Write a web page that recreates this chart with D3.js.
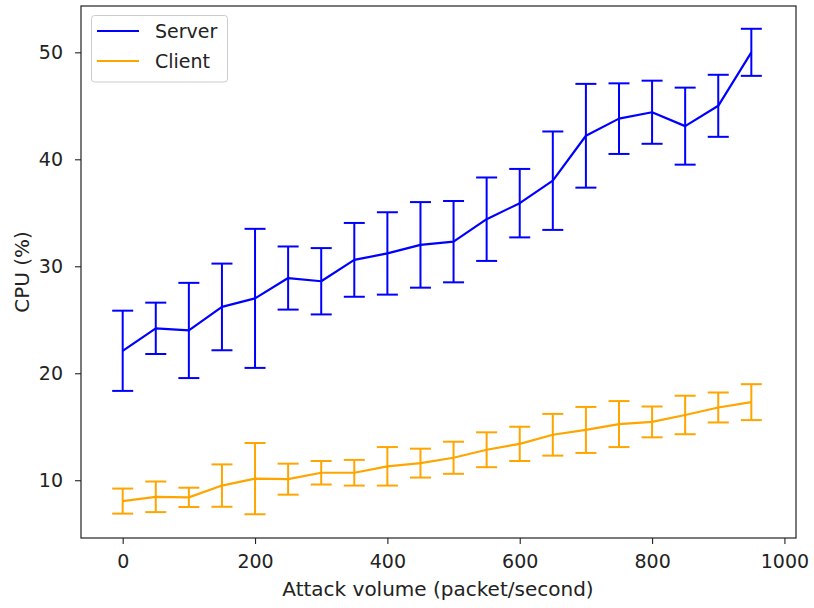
<!DOCTYPE html>
<html>
<head>
<meta charset="utf-8">
<script src="https://cdn.jsdelivr.net/npm/d3@7"></script>
<style>
  body { margin: 0; background: #fff; }
  text { font-family: "DejaVu Sans", sans-serif; fill: #222; }
</style>
</head>
<body>
<script>
// data
const volumes = [0, 50, 100, 150, 200, 250, 300, 350, 400, 450, 500, 550, 600, 650, 700, 750, 800, 850, 900, 950];
const serverMean = [22.1, 24.2, 24.0, 26.2, 27.0, 28.9, 28.6, 30.6, 31.2, 32.0, 32.3, 34.4, 35.9, 38.0, 42.2, 43.8, 44.4, 43.1, 45.0, 50.0];
const serverErr = [3.75, 2.4, 4.45, 4.05, 6.5, 2.95, 3.1, 3.45, 3.85, 4.0, 3.8, 3.9, 3.2, 4.6, 4.85, 3.3, 2.95, 3.6, 2.9, 2.2];
const clientMean = [8.05, 8.45, 8.4, 9.5, 10.15, 10.1, 10.7, 10.7, 11.3, 11.6, 12.1, 12.85, 13.4, 14.25, 14.7, 15.25, 15.45, 16.1, 16.8, 17.3];
const clientErr = [1.17, 1.43, 0.9, 1.98, 3.33, 1.45, 1.1, 1.2, 1.8, 1.35, 1.5, 1.63, 1.6, 1.95, 2.15, 2.15, 1.44, 1.8, 1.4, 1.68];
const xTicks = [0, 200, 400, 600, 800, 1000];
const yTicks = [10, 20, 30, 40, 50];

const series = [
  { name: 'Server', mean: serverMean, err: serverErr, color: '#0000ff' },
  { name: 'Client', mean: clientMean, err: clientErr, color: '#ffa500' }
];

const width = 814, height = 608;
const plotL = 81, plotR = 796, plotT = 6, plotB = 538;

const svg = d3.select('body').append('svg')
  .attr('width', width)
  .attr('height', height);

const x = d3.scaleLinear().domain([-63, 1017.5]).range([plotL, plotR]);
const y = d3.scaleLinear().domain([4.6, 54.33]).range([plotB, plotT]);

// axes
svg.append('g')
  .attr('transform', `translate(0,${plotB})`)
  .call(d3.axisBottom(x).tickValues(xTicks).tickSize(6).tickPadding(11).tickFormat(d3.format('d')))
  .call(g => g.select('.domain').remove())
  .call(g => g.selectAll('text').style('font-size', '19px'));

svg.append('g')
  .attr('transform', `translate(${plotL},0)`)
  .call(d3.axisLeft(y).tickValues(yTicks).tickSize(6).tickPadding(12))
  .call(g => g.select('.domain').remove())
  .call(g => g.selectAll('text').style('font-size', '19px'));

svg.selectAll('.tick line').attr('stroke', '#222').attr('stroke-width', 1.1);

// error bars and lines
const capHalf = 10.5;
series.forEach(s => {
  const g = svg.append('g');
  volumes.forEach((v, i) => {
    const cx = x(v);
    const y0 = y(s.mean[i] - s.err[i]);
    const y1 = y(s.mean[i] + s.err[i]);
    g.append('line').attr('x1', cx).attr('x2', cx).attr('y1', y0).attr('y2', y1)
      .attr('stroke', s.color).attr('stroke-width', 2);
    [y0, y1].forEach(yy => {
      g.append('line').attr('x1', cx - capHalf).attr('x2', cx + capHalf).attr('y1', yy).attr('y2', yy)
        .attr('stroke', s.color).attr('stroke-width', 2);
    });
  });
  const line = d3.line().x((d, i) => x(volumes[i])).y(d => y(d));
  g.append('path').datum(s.mean).attr('d', line)
    .attr('fill', 'none').attr('stroke', s.color).attr('stroke-width', 2.2)
    .attr('stroke-linejoin', 'round');
});

// frame
svg.append('rect')
  .attr('x', plotL).attr('y', plotT)
  .attr('width', plotR - plotL).attr('height', plotB - plotT)
  .attr('fill', 'none').attr('stroke', '#222').attr('stroke-width', 1.2);

// axis labels
svg.append('text')
  .attr('x', 438).attr('y', 596)
  .attr('text-anchor', 'middle').style('font-size', '20px')
  .text('Attack volume (packet/second)');

svg.append('text')
  .attr('transform', `translate(29,${(plotT + plotB) / 2}) rotate(-90)`)
  .attr('text-anchor', 'middle').style('font-size', '20px')
  .text('CPU (%)');

// legend
const legend = svg.append('g');
legend.append('rect')
  .attr('x', 91.5).attr('y', 15.5).attr('width', 136).attr('height', 66.5)
  .attr('rx', 3).attr('fill', '#fff').attr('fill-opacity', 0.8)
  .attr('stroke', '#ccc').attr('stroke-width', 1);
series.forEach((s, i) => {
  const ly = 31 + i * 30;
  legend.append('line').attr('x1', 97).attr('x2', 139).attr('y1', ly).attr('y2', ly)
    .attr('stroke', s.color).attr('stroke-width', 2);
  legend.append('text').attr('x', 155).attr('y', ly).attr('dy', '0.35em')
    .style('font-size', '19px').text(s.name);
});
</script>
</body>
</html>
